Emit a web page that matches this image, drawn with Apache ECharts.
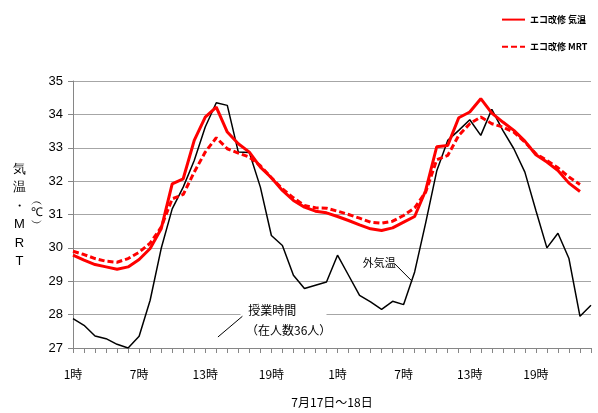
<!DOCTYPE html>
<html><head><meta charset="utf-8">
<script src="https://cdn.jsdelivr.net/npm/echarts@6/dist/echarts.min.js"></script>
<style>html,body{margin:0;padding:0;background:#fff}#c{width:598px;height:413px}</style>
</head><body><div id="c"></div>
<script>
const hours = ["1時","2時","3時","4時","5時","6時","7時","8時","9時","10時","11時","12時","13時","14時","15時","16時","17時","18時","19時","20時","21時","22時","23時","24時",
               "1時","2時","3時","4時","5時","6時","7時","8時","9時","10時","11時","12時","13時","14時","15時","16時","17時","18時","19時","20時","21時","22時","23時","24時"];
const ecoAir = [29.78,29.63,29.50,29.43,29.36,29.43,29.65,29.98,30.57,31.92,32.07,33.22,33.92,34.22,33.47,33.12,32.87,32.42,32.10,31.72,31.42,31.22,31.10,31.05,
                30.94,30.82,30.69,30.57,30.52,30.60,30.77,30.94,31.72,33.03,33.07,33.90,34.07,34.47,34.04,33.77,33.52,33.20,32.79,32.57,32.32,31.94,31.69,null];
const ecoMRT = [29.90,29.80,29.68,29.60,29.57,29.68,29.87,30.14,30.62,31.47,31.60,32.27,32.87,33.30,32.97,32.84,32.72,32.46,32.10,31.77,31.50,31.27,31.20,31.19,
                31.10,31.00,30.89,30.77,30.74,30.80,30.97,31.20,31.67,32.64,32.77,33.37,33.72,33.92,33.72,33.62,33.47,33.17,32.82,32.62,32.40,32.12,31.90,null];
const outdoor = [27.88,27.68,27.36,27.28,27.11,27.00,27.35,28.43,29.98,31.17,31.82,32.62,33.62,34.35,34.27,32.87,32.86,31.82,30.37,30.07,29.18,28.78,28.88,28.98,
                 29.78,29.18,28.58,28.38,28.16,28.40,28.30,29.28,30.75,32.30,33.22,33.52,33.84,33.37,34.15,33.52,32.97,32.27,31.12,30.00,30.44,29.68,27.95,28.28];
const yTicks = {min:27, max:35, interval:1};
const seriesNames = ["エコ改修 気温","エコ改修 MRT","外気温"];

const chart = echarts.init(document.getElementById('c'), null, {renderer:'canvas'});
const font = '"Noto Sans CJK JP", "Noto Sans", sans-serif';
chart.setOption({
  animation:false,
  backgroundColor:'#fff',
  grid:{left:73, right:7, top:81, bottom:65, containLabel:false},
  legend:{
    orient:'vertical', left:496, top:9, itemWidth:23, itemHeight:14, itemGap:16,
    data:[seriesNames[0], seriesNames[1]],
    itemStyle:{opacity:0},
    textStyle:{fontSize:9, color:'#000', fontFamily:font, fontWeight:'bold'}
  },
  xAxis:{
    type:'category', data:hours, boundaryGap:false,
    axisLine:{lineStyle:{color:'#868686', width:1}},
    axisTick:{show:true, interval:0, length:5, lineStyle:{color:'#868686'}},
    axisLabel:{interval:5, margin:20, fontSize:12, color:'#000', fontFamily:'"Liberation Sans Narrow", "Noto Sans CJK JP", sans-serif'},
    splitLine:{show:false}
  },
  yAxis:{
    type:'value', min:yTicks.min, max:yTicks.max, interval:yTicks.interval,
    axisLine:{show:true, lineStyle:{color:'#868686', width:1}},
    axisTick:{show:true, length:5, lineStyle:{color:'#868686'}},
    axisLabel:{margin:10, fontSize:13, color:'#000', fontFamily:'"Liberation Sans Narrow", "Liberation Sans", sans-serif'},
    splitLine:{show:true, lineStyle:{color:'#a6a6a6', width:1}}
  },
  series:[
    {name:seriesNames[0], type:'line', data:ecoAir, symbol:'none', z:4,
     lineStyle:{color:'#ff0000', width:3}, itemStyle:{color:'#ff0000'}},
    {name:seriesNames[1], type:'line', data:ecoMRT, symbol:'none', z:3,
     lineStyle:{color:'#ff0000', width:3, type:[6,3]}, itemStyle:{color:'#ff0000'}},
    {name:seriesNames[2], type:'line', data:outdoor, symbol:'none', z:2,
     lineStyle:{color:'#000', width:1.5}, itemStyle:{color:'#000'}}
  ]
});

// annotation placement via the chart's own coordinate conversion
const p0 = chart.convertToPixel({xAxisIndex:0}, 0);
const p1 = chart.convertToPixel({xAxisIndex:0}, 1);
const step = p1 - p0;
const X = i => p0 + step * i;
const Y = v => chart.convertToPixel({yAxisIndex:0}, v);
const plotCenter = (X(0) + X(hours.length - 1)) / 2;

chart.setOption({
  graphic:[
    {type:'text', left:13, top:160, style:{text:'気\n温\n・\nM\nR\nT', fontSize:13, lineHeight:18.5, fill:'#000', font:'13px ' + font, textAlign:'center'}},
    {type:'text', left:31, top:196, style:{text:'︵\n℃\n︶', fontSize:12, lineHeight:11, fill:'#000', font:'12px ' + font, textAlign:'center'}},
    {type:'text', x:plotCenter, y:396, style:{text:'7月17日～18日', font:'12px ' + font, fill:'#000', textAlign:'center'}},
    {type:'rect', shape:{x:X(15.2), y:Y(28.35), width:X(23.0)-X(15.2), height:Y(27.2)-Y(28.35)}, style:{fill:'#fff'}, z:1},
    {type:'text', x:X(15.9), y:Y(28.3), style:{text:'授業時間', font:'12px ' + font, fill:'#000', textVerticalAlign:'top'}, z:5},
    {type:'text', x:X(15.7), y:Y(27.72), style:{text:'（在人数36人）', font:'12px ' + font, fill:'#000', textVerticalAlign:'top'}, z:5},
    {type:'line', shape:{x1:X(13.15), y1:Y(27.33), x2:X(15.37), y2:Y(27.95)}, style:{stroke:'#000', lineWidth:1}, z:5},
    {type:'rect', shape:{x:X(25.6), y:Y(29.8), width:X(30.4)-X(25.6), height:Y(29.25)-Y(29.8)}, style:{fill:'#fff'}, z:1},
    {type:'text', x:X(26.3), y:Y(29.73), style:{text:'外気温', font:'11px ' + font, fill:'#000', textVerticalAlign:'top'}, z:5},
    {type:'line', shape:{x1:X(29.17), y1:Y(29.53), x2:X(30.77), y2:Y(29.0)}, style:{stroke:'#000', lineWidth:1}, z:5}
  ]
});
</script></body></html>
